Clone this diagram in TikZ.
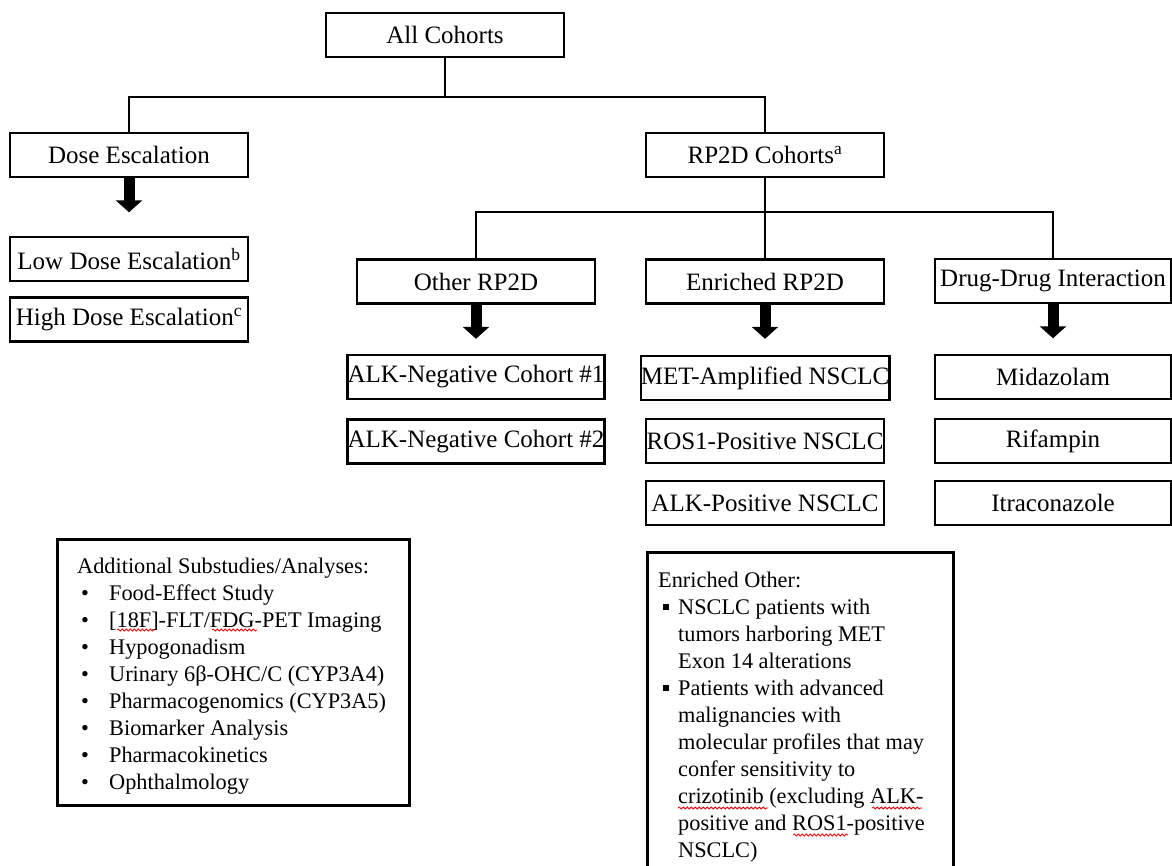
\documentclass[tikz,border=0pt]{standalone}
\usepackage{fontspec}
\setmainfont{Liberation Serif}
\usetikzlibrary{arrows.meta,decorations.pathmorphing}
\begin{document}
\begin{tikzpicture}[x=1pt,y=-1pt,
  box/.style={draw, line width=2.6pt, rectangle, minimum width=238pt, minimum height=44pt, inner sep=0pt, font=\fontsize{25}{30}\selectfont},
  link/.style={draw, line width=2pt},
  bigarrow/.style={line width=11pt, -{Triangle[width=26pt,length=12pt]}},
  panel/.style={draw, line width=2.6pt, rectangle, anchor=north west, inner sep=0pt},
  body/.style={anchor=north west, inner sep=0pt, align=left, font=\fontsize{22.3}{27}\selectfont},
  spell/.style={red, line width=0.8pt, decorate, decoration={snake, segment length=4pt, amplitude=1pt}}
]
\useasboundingbox (0,0) rectangle (1172,865);
\clip (0,0) rectangle (1172,865);

% top level
\node[box] (all) at (445,35) {All Cohorts};
\node[box] (de) at (129,155) {Dose Escalation};
\node[box] (rp2d) at (765,155) {RP2D Cohorts\textsuperscript{a}};

\node[box] (low) at (129,259) {Low Dose Escalation\textsuperscript{b}};
\node[box] (high) at (129,319.5) {High Dose Escalation\textsuperscript{c}};

\node[box] (other) at (476,281.5) {Other RP2D};
\node[box] (enr) at (765,281.5) {Enriched RP2D};
\node[box, minimum width=236pt] (ddi) at (1053,281) {Drug-Drug Interaction};

\node[box] (alkn1) at (476,377) {ALK-Negative Cohort \#1};
\node[box] (alkn2) at (476,441.5) {ALK-Negative Cohort \#2};

\node[box] (met) at (765,378) {MET-Amplified NSCLC};
\node[box] (ros) at (765,441) {ROS1-Positive NSCLC};
\node[box] (alkp) at (765,503) {ALK-Positive NSCLC};

\node[box, minimum width=236pt] (mid) at (1053,377) {Midazolam};
\node[box, minimum width=236pt] (rif) at (1053,441) {Rifampin};
\node[box, minimum width=236pt] (itr) at (1053,503) {Itraconazole};

% connectors
\coordinate (busA) at (445,97);
\draw[link] (all.south) -- (busA);
\draw[link] (de.north) |- (busA) -| (rp2d.north);

\coordinate (busB) at (765,212);
\draw[link] (rp2d.south) -- (enr.north);
\draw[link] (other.north) |- (busB) -| (ddi.north);

% block arrows
\draw[bigarrow] (de.south) -- ++(0,34);
\draw[bigarrow] (other.south) -- ++(0,34);
\draw[bigarrow] (enr.south) -- ++(0,34);
\draw[bigarrow] (ddi.south) -- ++(0,34);

% additional substudies panel
\node[panel, minimum width=352pt, minimum height=266pt] (add) at (56,538) {};
\node[body] (addtxt) at (77,557.5) {Additional Substudies/Analyses:\\
\makebox[32pt][l]{\hspace{4pt}•}Food-Effect Study\\
\makebox[32pt][l]{\hspace{4pt}•}[18F]-FLT/FDG-PET Imaging\\
\makebox[32pt][l]{\hspace{4pt}•}Hypogonadism\\
\makebox[32pt][l]{\hspace{4pt}•}Urinary 6β-OHC/C (CYP3A4)\\
\makebox[32pt][l]{\hspace{4pt}•}Pharmacogenomics (CYP3A5)\\
\makebox[32pt][l]{\hspace{4pt}•}Biomarker Analysis\\
\makebox[32pt][l]{\hspace{4pt}•}Pharmacokinetics\\
\makebox[32pt][l]{\hspace{4pt}•}Ophthalmology};

% enriched other panel
\node[panel, minimum width=306pt, minimum height=340pt] (eo) at (646,551) {};
\node[body] (eotxt) at (658,572) {Enriched Other:\\
\makebox[20pt][l]{\hspace{5pt}\raisebox{4.5pt}{\rule{6pt}{6pt}}}NSCLC patients with\\
\hspace*{20pt}tumors harboring MET\\
\hspace*{20pt}Exon 14 alterations\\
\makebox[20pt][l]{\hspace{5pt}\raisebox{4.5pt}{\rule{6pt}{6pt}}}Patients with advanced\\
\hspace*{20pt}malignancies with\\
\hspace*{20pt}molecular profiles that may\\
\hspace*{20pt}confer sensitivity to\\
\hspace*{20pt}crizotinib (excluding ALK-\\
\hspace*{20pt}positive and ROS1-positive\\
\hspace*{20pt}NSCLC)};

% spell-check underlines
\draw[spell] (117,630) -- (155,630);
\draw[spell] (212,630) -- (257,630);
\draw[spell] (678,808) -- (768,808);
\draw[spell] (872,808) -- (922,808);
\draw[spell] (793,835) -- (848,835);
\end{tikzpicture}
\end{document}
